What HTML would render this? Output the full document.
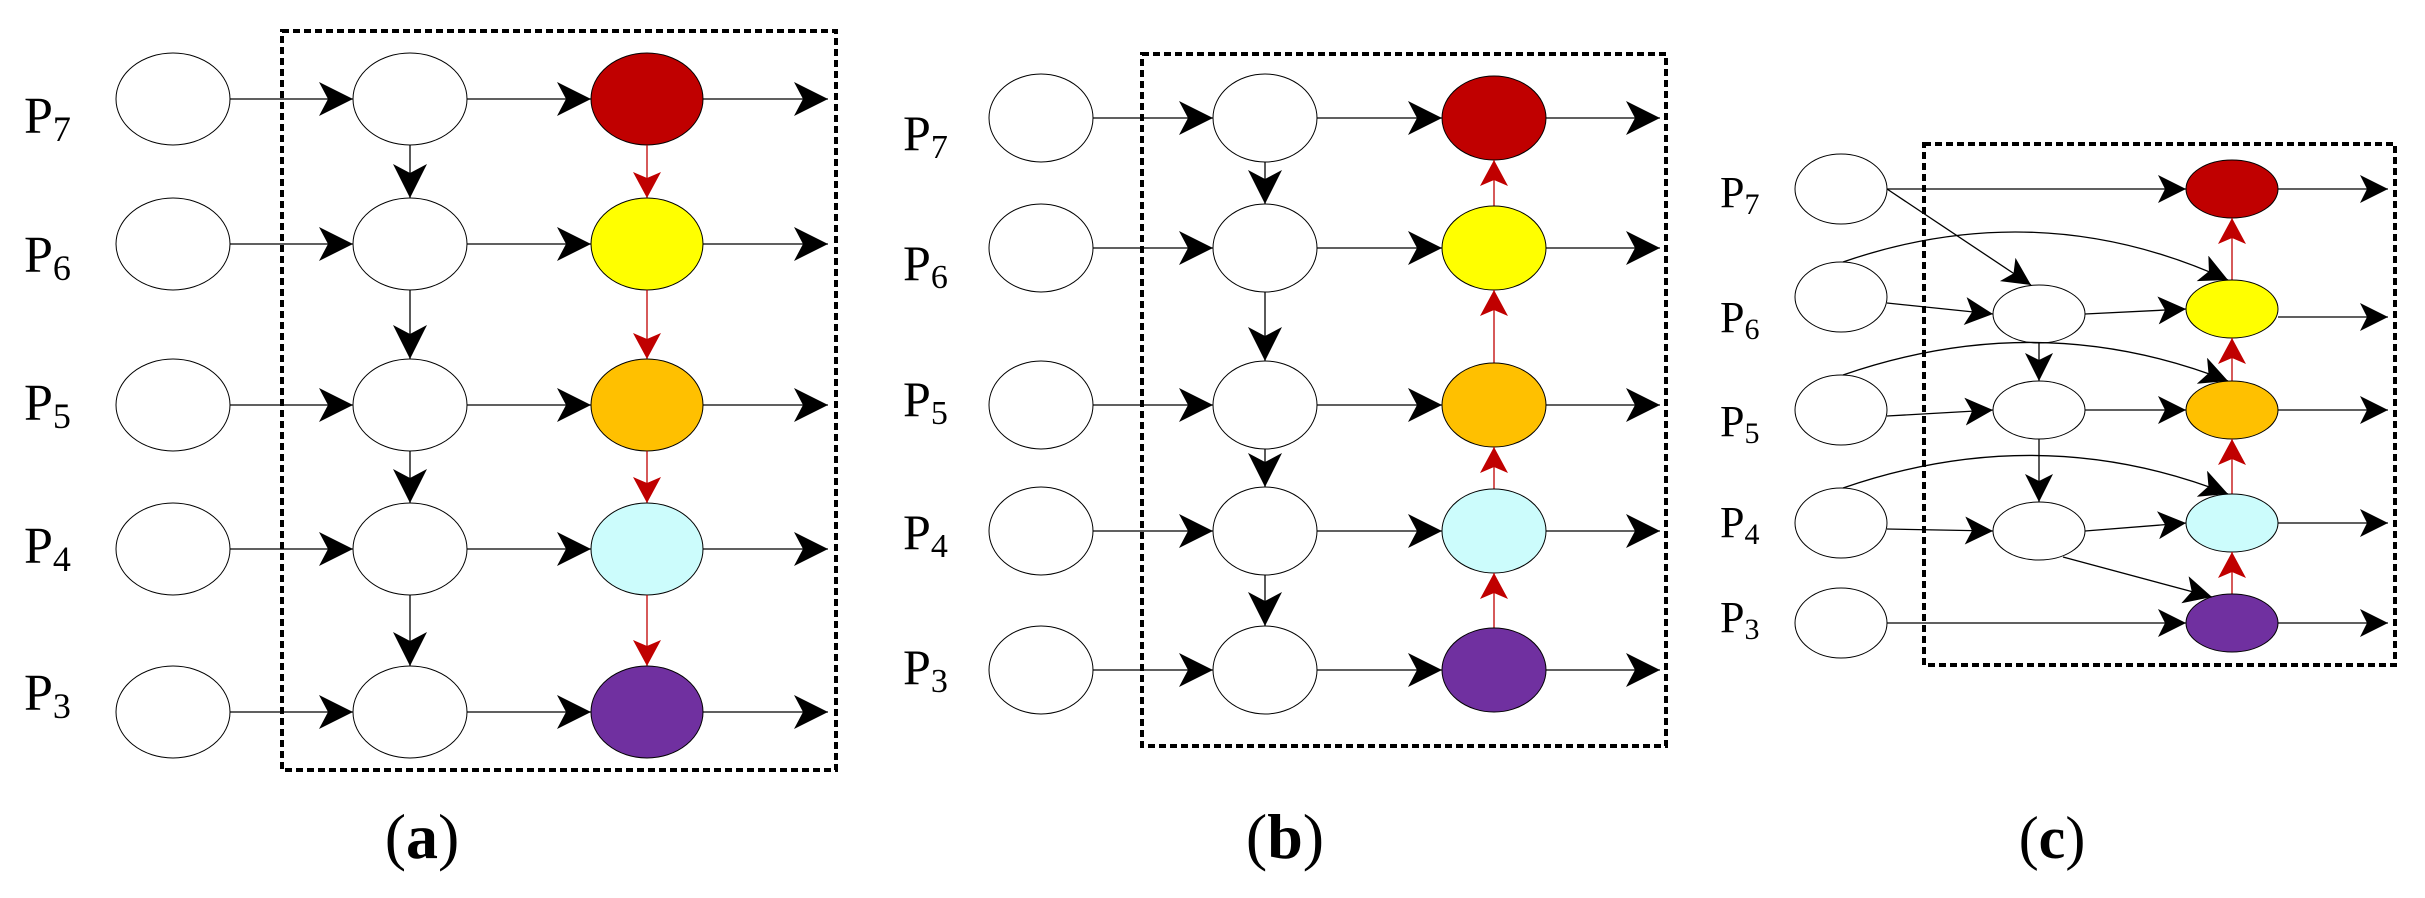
<!DOCTYPE html>
<html><head><meta charset="utf-8"><style>
html,body{margin:0;padding:0;background:#fff;}
svg{display:block;}
text{font-family:"Liberation Serif",serif;fill:#000;}
</style></head><body>
<svg id="s" width="2425" height="898" viewBox="0 0 2425 898" xmlns="http://www.w3.org/2000/svg">
<defs>
<marker id="ab" markerUnits="userSpaceOnUse" markerWidth="40" markerHeight="40" refX="34" refY="17" orient="auto"><path d="M0,0 L34,17 L0,34 L9,17 Z" fill="#000"/></marker>
<marker id="abs" markerUnits="userSpaceOnUse" markerWidth="34" markerHeight="34" refX="28" refY="14" orient="auto"><path d="M0,0 L28,14 L0,28 L7,14 Z" fill="#000"/></marker>
<marker id="ar" markerUnits="userSpaceOnUse" markerWidth="30" markerHeight="30" refX="26" refY="14" orient="auto"><path d="M0,0 L26,14 L0,28 L6,14 Z" fill="#c00000"/></marker>
</defs>
<g id="g"></g>
<g font-size="52">
<text x="24" y="133">P<tspan font-size="36" dy="8">7</tspan></text>
<text x="24" y="272">P<tspan font-size="36" dy="8">6</tspan></text>
<text x="24" y="420">P<tspan font-size="36" dy="8">5</tspan></text>
<text x="24" y="563">P<tspan font-size="36" dy="8">4</tspan></text>
<text x="24" y="710">P<tspan font-size="36" dy="8">3</tspan></text>
</g>
<g font-size="50">
<text x="903" y="150">P<tspan font-size="34" dy="8">7</tspan></text>
<text x="903" y="280">P<tspan font-size="34" dy="8">6</tspan></text>
<text x="903" y="416">P<tspan font-size="34" dy="8">5</tspan></text>
<text x="903" y="549">P<tspan font-size="34" dy="8">4</tspan></text>
<text x="903" y="684">P<tspan font-size="34" dy="8">3</tspan></text>
</g>
<g font-size="44">
<text x="1720" y="207">P<tspan font-size="30" dy="7">7</tspan></text>
<text x="1720" y="332">P<tspan font-size="30" dy="7">6</tspan></text>
<text x="1720" y="436">P<tspan font-size="30" dy="7">5</tspan></text>
<text x="1720" y="537">P<tspan font-size="30" dy="7">4</tspan></text>
<text x="1720" y="632">P<tspan font-size="30" dy="7">3</tspan></text>
</g>
<g font-size="64" text-anchor="middle">
<text x="422" y="858">(<tspan font-weight="bold">a</tspan>)</text>
<text x="1285" y="858">(<tspan font-weight="bold">b</tspan>)</text>
<text x="2052" y="858" font-size="60">(<tspan font-weight="bold">c</tspan>)</text>
</g>
</svg>
<script>
var g=document.getElementById('g'),NS='http://www.w3.org/2000/svg';
function el(t,a){var e=document.createElementNS(NS,t);for(var k in a)e.setAttribute(k,a[k]);g.appendChild(e);return e;}
function ell(x,y,rx,ry,f){el('ellipse',{cx:x,cy:y,rx:rx,ry:ry,fill:f||'#fff',stroke:'#000','stroke-width':1});}
function ln(x1,y1,x2,y2,m,c){el('line',{x1:x1,y1:y1,x2:x2,y2:y2,stroke:c||'#000','stroke-width':1.3,'marker-end':'url(#'+m+')'});}
function box(x1,y1,x2,y2){el('rect',{x:x1,y:y1,width:x2-x1,height:y2-y1,fill:'none',stroke:'#000','stroke-width':4,'stroke-dasharray':'7,4'});}
var cols=['#c00000','#ffff00','#ffc000','#ccfcfc','#7030a0'];
function panel(bx,rows,c1,c2,c3,rx,ry,rx3,ry3,out,down,m){
  box.apply(null,bx);
  for(var i=0;i<5;i++){var y=rows[i];
    ell(c1,y,rx,ry);ell(c2,y,rx,ry);ell(c3,y,rx3,ry3,cols[i]);
    ln(c1+rx,y,c2-rx,y,m);ln(c2+rx,y,c3-rx3,y,m);ln(c3+rx3,y,out,y,m);
    if(i<4){var y2=rows[i+1];ln(c2,y+ry,c2,y2-ry,m);
      if(down)ln(c3,y+ry3,c3,y2-ry3,'ar','#c00000');else ln(c3,y2-ry3,c3,y+ry3,'ar','#c00000');}
  }
}
panel([282,31,836,770],[99,244,405,549,712],173,410,647,57,46,56,46,828,true,'ab');
panel([1142,54,1666,746],[118,248,405,531,670],1041,1265,1494,52,44,52,42,1660,false,'ab');
box(1924,144,2395,665);
var r1=[189,297,410,523,623],r3=[189,309,410,523,623],r2={1:314,2:410,3:531};
var c1=1841,c2=2039,c3=2232,rx=46,ry=35,rx3=46,ry3=29,ry2=29;
for(var i=0;i<5;i++){ell(c1,r1[i],rx,ry);ell(c3,r3[i],rx3,ry3,cols[i]);ln(c3+rx3,r3[i]+(i==1?8:0),2388,r3[i]+(i==1?8:0),'abs');
  if(i<4)ln(c3,r3[i+1]-ry3,c3,r3[i]+ry3,'ar','#c00000');}
for(var k=1;k<=3;k++){ell(c2,r2[k],rx,ry2);ln(c1+rx,r1[k]+6,c2-rx,r2[k],'abs');ln(c2+rx,r2[k],c3-rx3,r3[k],'abs');
  if(k<3)ln(c2,r2[k]+ry2,c2,r2[k+1]-ry2,'abs');
  el('path',{d:'M'+(c1+2)+','+(r1[k]-ry)+' Q2040,'+(r1[k]-ry-68)+' '+(c3-4)+','+(r3[k]-ry3),fill:'none',stroke:'#000','stroke-width':1.3,'marker-end':'url(#abs)'});}
ln(c1+rx,r1[0],c3-rx3,r3[0],'abs');
ln(c1+rx,r1[0],c2-8,r2[1]-ry2,'abs');
ln(c2+24,r2[3]+26,c3-20,r3[4]-26,'abs');
ln(c1+rx,r1[4],c3-rx3,r3[4],'abs');
</script>
</body></html>
